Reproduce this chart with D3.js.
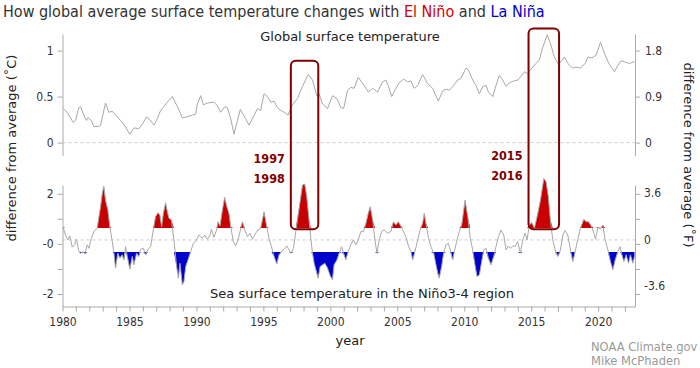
<html>
<head>
  <script src="https://cdn.jsdelivr.net/npm/d3@7/dist/d3.min.js"></script>
</head>
<style>
  body {
    margin: 0;
    background: white;
  }
  text {
    font-family: "DejaVu Sans Condensed", "DejaVu Sans", sans-serif;
  }
  .label {
    font-family: "DejaVu Sans", sans-serif;
  }
  .axis path, .axis line {
    stroke: #aaa;
  }
  .axis text {
    fill: #333;
    font-size: 12px;
    font-family: "DejaVu Sans Condensed", "DejaVu Sans", sans-serif;
  }
</style>
<body>
  <svg id="chart" width="700" height="368"></svg>

  <script type="text/javascript">
    // global surface temperature anomaly (deg C)
    var globalYear = [1980.05, 1980.35, 1980.80, 1980.97, 1981.22, 1981.35, 1981.59, 1981.79, 1981.89, 1982.15,
      1982.34, 1982.71, 1982.84, 1983.21, 1983.46, 1983.72, 1983.96, 1984.34, 1984.71, 1985.03,
      1985.33, 1985.70, 1985.96, 1986.28, 1986.53, 1986.83, 1987.08, 1987.33, 1987.57, 1987.83,
      1988.20, 1988.58, 1988.95, 1989.32, 1989.70, 1989.94, 1990.07, 1990.32, 1990.52, 1990.82,
      1991.31, 1991.57, 1991.81, 1992.11, 1992.31, 1992.56, 1992.81, 1993.06, 1993.28, 1993.68,
      1993.93, 1994.18, 1994.56, 1994.80, 1995.05, 1995.30, 1995.55, 1995.80, 1996.05, 1996.30,
      1996.55, 1996.84, 1997.17, 1997.55, 1997.92, 1998.34, 1998.67, 1998.99, 1999.16, 1999.42,
      1999.79, 2000.16, 2000.49, 2000.79, 2000.99, 2001.29, 2001.53, 2001.78, 2002.08, 2002.33,
      2002.53, 2002.83, 2003.16, 2003.53, 2003.90, 2004.15, 2004.32, 2004.58, 2004.90, 2005.14,
      2005.47, 2005.77, 2006.02, 2006.27, 2006.52, 2006.89, 2007.27, 2007.64, 2008.06, 2008.39,
      2008.64, 2008.88, 2009.14, 2009.51, 2009.76, 2010.13, 2010.30, 2010.63, 2010.88, 2011.13,
      2011.38, 2011.63, 2011.80, 2012.13, 2012.37, 2012.62, 2012.87, 2013.12, 2013.37, 2013.70,
      2014.00, 2014.24, 2014.49, 2014.74, 2014.99, 2015.36, 2015.61, 2015.87, 2016.19, 2016.43,
      2016.73, 2016.99, 2017.23, 2017.48, 2017.73, 2018.11, 2018.36, 2018.68, 2019.03, 2019.23,
      2019.53, 2019.85, 2020.17, 2020.47, 2020.73, 2020.97, 2021.22, 2021.47, 2021.72, 2022.09,
      2022.34, 2022.71];
    var globalTemp = [0.37, 0.33, 0.22, 0.24, 0.38, 0.39, 0.30, 0.24, 0.27, 0.24,
      0.175, 0.175, 0.19, 0.43, 0.33, 0.34, 0.30, 0.24, 0.17, 0.09,
      0.16, 0.15, 0.20, 0.28, 0.25, 0.19, 0.26, 0.35, 0.39, 0.44,
      0.50, 0.39, 0.27, 0.28, 0.30, 0.31, 0.42, 0.51, 0.41, 0.43,
      0.44, 0.40, 0.33, 0.39, 0.38, 0.26, 0.09, 0.24, 0.36, 0.26,
      0.19, 0.26, 0.37, 0.35, 0.53, 0.50, 0.44, 0.45, 0.38, 0.35,
      0.33, 0.30, 0.41, 0.48, 0.61, 0.74, 0.68, 0.51, 0.53, 0.42,
      0.37, 0.51, 0.48, 0.38, 0.37, 0.57, 0.60, 0.59, 0.71, 0.66,
      0.62, 0.55, 0.59, 0.55, 0.66, 0.68, 0.62, 0.50, 0.59, 0.65,
      0.69, 0.66, 0.67, 0.59, 0.62, 0.74, 0.64, 0.59, 0.45, 0.56,
      0.58, 0.57, 0.61, 0.68, 0.70, 0.81, 0.79, 0.68, 0.62, 0.53,
      0.61, 0.62, 0.55, 0.50, 0.62, 0.73, 0.68, 0.61, 0.65, 0.67,
      0.68, 0.72, 0.77, 0.75, 0.80, 0.86, 0.90, 1.04, 1.17, 1.08,
      0.93, 0.86, 0.88, 0.93, 0.86, 0.81, 0.82, 0.81, 0.86, 0.93,
      0.92, 0.95, 1.09, 0.97, 0.88, 0.82, 0.77, 0.84, 0.89, 0.87,
      0.86, 0.88];

    // Nino3-4 sea surface temperature anomaly (deg C)
    var ninoYear = [1980.05, 1980.22, 1980.40, 1980.55, 1980.73, 1980.90, 1981.05, 1981.22, 1981.35, 1981.55,
      1981.67, 1981.85, 1981.97, 1982.15, 1982.34, 1982.59, 1982.84, 1982.97, 1983.09, 1983.21,
      1983.39, 1983.54, 1983.72, 1983.84, 1983.96, 1984.13, 1984.28, 1984.46, 1984.58, 1984.71,
      1984.84, 1985.03, 1985.21, 1985.33, 1985.53, 1985.70, 1985.83, 1986.03, 1986.21, 1986.38,
      1986.58, 1986.78, 1986.95, 1987.13, 1987.27, 1987.40, 1987.53, 1987.70, 1987.83, 1987.95,
      1988.13, 1988.32, 1988.52, 1988.65, 1988.77, 1988.95, 1989.07, 1989.20, 1989.37, 1989.57,
      1989.77, 1989.94, 1990.19, 1990.44, 1990.62, 1990.82, 1991.01, 1991.12, 1991.31, 1991.51,
      1991.61, 1991.76, 1991.94, 1992.11, 1992.26, 1992.43, 1992.56, 1992.76, 1992.93, 1993.11,
      1993.26, 1993.44, 1993.61, 1993.81, 1994.00, 1994.18, 1994.43, 1994.60, 1994.80, 1995.05,
      1995.25, 1995.42, 1995.60, 1995.80, 1996.00, 1996.17, 1996.35, 1996.55, 1996.75, 1996.92,
      1997.05, 1997.25, 1997.42, 1997.67, 1997.92, 1998.09, 1998.24, 1998.41, 1998.54, 1998.67,
      1998.79, 1998.92, 1999.09, 1999.24, 1999.42, 1999.59, 1999.79, 1999.99, 2000.16, 2000.28,
      2000.49, 2000.66, 2000.84, 2001.03, 2001.16, 2001.33, 2001.53, 2001.73, 2001.91, 2002.08,
      2002.28, 2002.48, 2002.65, 2002.83, 2002.98, 2003.16, 2003.33, 2003.48, 2003.65, 2003.83,
      2004.02, 2004.28, 2004.52, 2004.72, 2004.90, 2005.07, 2005.22, 2005.40, 2005.64, 2005.85,
      2006.02, 2006.15, 2006.32, 2006.52, 2006.71, 2006.89, 2007.01, 2007.14, 2007.31, 2007.51,
      2007.72, 2007.89, 2008.01, 2008.13, 2008.31, 2008.46, 2008.64, 2008.81, 2008.96, 2009.14,
      2009.26, 2009.46, 2009.63, 2009.81, 2010.06, 2010.26, 2010.45, 2010.63, 2010.80, 2010.95,
      2011.13, 2011.30, 2011.45, 2011.63, 2011.80, 2012.00, 2012.20, 2012.37, 2012.55, 2012.75,
      2012.95, 2013.12, 2013.29, 2013.44, 2013.62, 2013.79, 2013.99, 2014.19, 2014.37, 2014.54,
      2014.69, 2014.86, 2015.04, 2015.24, 2015.44, 2015.69, 2015.94, 2016.11, 2016.28, 2016.43,
      2016.61, 2016.79, 2016.99, 2017.18, 2017.36, 2017.53, 2017.73, 2017.93, 2018.11, 2018.28,
      2018.48, 2018.68, 2018.93, 2019.10, 2019.28, 2019.48, 2019.68, 2019.80, 2019.98, 2020.17,
      2020.35, 2020.52, 2020.73, 2020.92, 2021.10, 2021.27, 2021.47, 2021.64, 2021.77, 2021.92,
      2022.09, 2022.26, 2022.41, 2022.59, 2022.71];
    var ninoTemp = [0.54, 0.21, 0.00, 0.17, -0.31, -0.21, 0.03, -0.50, -0.57, -0.50,
      -0.60, -0.21, -0.36, 0.07, 0.36, 0.50, 1.43, 2.00, 2.31, 1.71,
      1.28, 0.54, -0.07, -0.57, -1.21, -0.57, -0.78, -0.64, -0.86, -0.29,
      -0.71, -1.26, -0.71, -1.07, -0.57, -0.71, -0.40, -0.36, -0.64, -0.40,
      -0.29, 0.43, 1.00, 1.17, 1.07, 0.57, 1.14, 1.60, 1.21, 0.93,
      0.86, 0.00, -1.14, -1.64, -1.00, -1.93, -1.79, -1.14, -0.86, -0.50,
      -0.14, -0.07, 0.21, 0.07, 0.21, 0.03, 0.21, 0.46, 0.11, 0.43,
      0.78, 0.60, 1.28, 1.83, 1.46, 1.14, 0.57, -0.07, -0.26, 0.00,
      0.36, 0.78, 0.43, 0.14, 0.29, 0.03, 0.29, 0.43, 0.50, 1.21,
      0.57, 0.07, -0.29, -0.71, -1.03, -0.64, -0.50, -0.40, -0.26, -0.43,
      -0.57, -0.36, 0.36, 1.36, 2.36, 2.40, 1.86, 0.86, 0.07, -0.57,
      -1.00, -1.28, -1.64, -1.14, -1.07, -1.00, -1.21, -1.54, -1.71, -1.07,
      -0.86, -0.57, -0.29, -0.64, -0.86, -0.50, -0.21, 0.00, -0.21, 0.00,
      0.36, 0.36, 0.69, 1.14, 1.43, 0.86, 0.00, -0.57, 0.00, 0.36,
      0.43, 0.29, 0.36, 0.78, 0.64, 0.78, 0.64, 0.43, 0.14, -0.29,
      -0.50, -0.86, -0.50, 0.00, 0.43, 0.71, 1.14, 0.71, 0.14, -0.29,
      -0.57, -1.07, -1.40, -1.64, -1.14, -0.57, -0.21, -0.14, -0.43, -0.86,
      -0.50, 0.00, 0.36, 0.64, 1.71, 1.00, 0.07, -0.43, -1.07, -1.57,
      -1.50, -0.93, -0.43, -0.36, -0.78, -1.07, -0.71, -0.29, 0.14, 0.43,
      0.21, -0.43, -0.26, -0.36, -0.26, -0.29, -0.07, -0.57, 0.00, 0.29,
      0.00, 0.64, 0.74, 0.50, 1.00, 1.71, 2.64, 2.50, 1.86, 0.86,
      0.00, -0.43, -0.71, -0.43, 0.21, 0.40, 0.21, -0.43, -0.93, -0.50,
      0.03, 0.50, 0.89, 0.78, 0.78, 0.60, 0.29, 0.03, 0.54, 0.46,
      0.64, 0.00, -0.43, -0.93, -1.28, -0.86, -0.50, -0.29, -0.64, -0.93,
      -0.64, -1.00, -0.64, -1.00, -0.71];

    // ticks and labels
    var yearTicks = d3.range(1980, 2023);
    var topTicksC = [0, 0.5, 1];
    var topTicksF = [0, 0.9, 1.8];
    var ninoTicksC = [-2, -1, 0, 1, 2];
    var ninoLabelsC = ['-2', '', '-0', '', '2'];
    var ninoTicksF = [-3.6, 0, 3.6];
    var ninoLabelsF = ['-3.6', '0', '3.6'];
    var events = ['1997', '1998', '2015', '2016'];

    var svg = d3.select('#chart');

    // layout
    var left = 62.5, right = 635;
    var topPanel = {top: 34, bottom: 155.5};
    var botPanel = {top: 185, bottom: 306.5};

    var x = d3.scaleLinear()
      .domain([1980, 2022.75])
      .range([left, right]);
    var yTop = d3.scaleLinear()
      .domain([-0.14, 1.18])
      .range([topPanel.bottom, topPanel.top]);
    var yTopF = d3.scaleLinear()
      .domain([-0.14 * 1.8, 1.18 * 1.8])
      .range([topPanel.bottom, topPanel.top]);
    var yNino = d3.scaleLinear()
      .domain([-2.86, 2.36])
      .range([botPanel.bottom, botPanel.top]);
    // left tick marks of the lower panel sit a little off the data zero
    var yNinoTick = d3.scaleLinear()
      .domain([-2.5, 2.35])
      .range([botPanel.bottom, botPanel.top]);

    //title
    var title = svg.append('text')
      .attr('x', 3)
      .attr('y', 17)
      .attr('font-size', 16)
      .attr('fill', '#333');
    title.append('tspan').text('How global average surface temperature changes with ');
    title.append('tspan').attr('fill', '#d00000').text('El Niño');
    title.append('tspan').text(' and ');
    title.append('tspan').attr('fill', '#0000cc').text('La Niña');

    //zero lines
    svg.append('line')
      .attr('x1', left).attr('x2', right)
      .attr('y1', yTop(0)).attr('y2', yTop(0))
      .attr('stroke', '#ccc')
      .attr('stroke-dasharray', '3,3');
    svg.append('line')
      .attr('x1', left).attr('x2', right)
      .attr('y1', yNino(0)).attr('y2', yNino(0))
      .attr('stroke', '#ccc')
      .attr('stroke-dasharray', '3,3');

    //global temperature line
    var globalData = d3.zip(globalYear, globalTemp);
    var topLine = d3.line()
      .x(function (d) { return x(d[0]); })
      .y(function (d) { return yTop(d[1]); });
    svg.append('path')
      .attr('d', topLine(globalData))
      .attr('fill', 'none')
      .attr('stroke', '#a8a8a8')
      .attr('stroke-width', 1);

    //nino fills, clipped at +/-0.5 (snapped to whole pixels so no hairline leaks)
    var ninoData = d3.zip(ninoYear, ninoTemp);
    var warmY = Math.round(yNino(0.5));
    var coldY = Math.round(yNino(-0.5));
    var defs = svg.append('defs');
    defs.append('clipPath').attr('id', 'warmClip')
      .append('rect')
      .attr('x', left).attr('y', 0)
      .attr('width', right - left)
      .attr('height', warmY);
    defs.append('clipPath').attr('id', 'coldClip')
      .append('rect')
      .attr('x', left).attr('y', coldY)
      .attr('width', right - left)
      .attr('height', 368 - coldY);

    var warmArea = d3.area()
      .x(function (d) { return x(d[0]); })
      .y0(warmY)
      .y1(function (d) { return Math.min(yNino(d[1]), warmY); });
    var coldArea = d3.area()
      .x(function (d) { return x(d[0]); })
      .y0(coldY)
      .y1(function (d) { return Math.max(yNino(d[1]), coldY); });
    svg.append('path')
      .attr('d', warmArea(ninoData))
      .attr('clip-path', 'url(#warmClip)')
      .attr('fill', '#c80000');
    svg.append('path')
      .attr('d', coldArea(ninoData))
      .attr('clip-path', 'url(#coldClip)')
      .attr('fill', '#0000cc');

    var ninoLine = d3.line()
      .x(function (d) { return x(d[0]); })
      .y(function (d) { return yNino(d[1]); });
    svg.append('path')
      .attr('d', ninoLine(ninoData))
      .attr('fill', 'none')
      .attr('stroke', '#a8a8a8')
      .attr('stroke-width', 1);

    //axes
    svg.append('g')
      .attr('class', 'axis')
      .attr('transform', 'translate(' + left + ',0)')
      .call(d3.axisLeft(yTop).tickValues(topTicksC).tickSize(5).tickSizeOuter(0).tickPadding(4)
        .tickFormat(d3.format('')));
    svg.append('g')
      .attr('class', 'axis')
      .attr('transform', 'translate(' + right + ',0)')
      .call(d3.axisRight(yTopF).tickValues(topTicksF).tickSize(5).tickSizeOuter(0).tickPadding(5)
        .tickFormat(d3.format('')));
    svg.append('g')
      .attr('class', 'axis')
      .attr('transform', 'translate(' + left + ',0)')
      .call(d3.axisLeft(yNinoTick).tickValues(ninoTicksC).tickSize(5).tickSizeOuter(0).tickPadding(4)
        .tickFormat(function (d, i) { return ninoLabelsC[i]; }));
    var rightNino = svg.append('g')
      .attr('class', 'axis')
      .attr('transform', 'translate(' + right + ',0)')
      .call(d3.axisRight(yNinoTick).tickValues(ninoTicksC).tickSize(5).tickSizeOuter(0).tickFormat(''));
    rightNino.selectAll('.flabel')
      .data(ninoTicksF)
      .enter()
      .append('text')
      .attr('class', 'flabel')
      .attr('x', 9)
      .attr('y', function (d) { return yNino(d / 1.8); })
      .attr('dy', '0.32em')
      .attr('text-anchor', 'start')
      .text(function (d, i) { return ninoLabelsF[i]; });

    svg.append('g')
      .attr('class', 'axis')
      .attr('transform', 'translate(0,' + botPanel.bottom + ')')
      .call(d3.axisBottom(x).tickValues(yearTicks).tickSize(5).tickSizeOuter(0).tickPadding(6)
        .tickFormat(function (d) { return d % 5 === 0 ? d : ''; }));

    //panel titles
    svg.append('text')
      .attr('class', 'label')
      .attr('x', 350)
      .attr('y', 41)
      .attr('text-anchor', 'middle')
      .attr('font-size', 13)
      .attr('fill', '#222')
      .text('Global surface temperature');
    svg.append('text')
      .attr('class', 'label')
      .attr('x', 362)
      .attr('y', 298)
      .attr('text-anchor', 'middle')
      .attr('font-size', 13)
      .attr('fill', '#222')
      .text('Sea surface temperature in the Niño3-4 region');

    //axis titles
    svg.append('text')
      .attr('class', 'label')
      .attr('x', 350)
      .attr('y', 345)
      .attr('text-anchor', 'middle')
      .attr('font-size', 13)
      .attr('fill', '#222')
      .text('year');
    svg.append('text')
      .attr('class', 'label')
      .attr('transform', 'translate(16,148) rotate(-90)')
      .attr('text-anchor', 'middle')
      .attr('font-size', 13)
      .attr('fill', '#222')
      .text('difference from average (˚C)');
    svg.append('text')
      .attr('class', 'label')
      .attr('transform', 'translate(684,155) rotate(90)')
      .attr('text-anchor', 'middle')
      .attr('font-size', 13)
      .attr('fill', '#222')
      .text('difference from average (˚F)');

    //event boxes
    var boxes = [
      {start: 1997.05, end: 1999.1, top: 0.89, labels: events.slice(0, 2), labelY: 163},
      {start: 2014.8, end: 2017.08, top: 1.24, labels: events.slice(2, 4), labelY: 160}
    ];
    boxes.forEach(function (b) {
      svg.append('rect')
        .attr('x', x(b.start))
        .attr('y', yTop(b.top))
        .attr('width', x(b.end) - x(b.start))
        .attr('height', yNino(0.46) - yTop(b.top))
        .attr('rx', 5)
        .attr('fill', 'none')
        .attr('stroke', '#800000')
        .attr('stroke-width', 2);
      b.labels.forEach(function (t, i) {
        svg.append('text')
          .attr('x', x(b.start) - 6)
          .attr('y', b.labelY + i * 20)
          .attr('text-anchor', 'end')
          .attr('font-size', 12.5)
          .attr('font-weight', 'bold')
          .attr('fill', '#800000')
          .text(t);
      });
    });

    //credits
    svg.append('text')
      .attr('x', 591)
      .attr('y', 351)
      .attr('font-size', 12.8)
      .attr('fill', '#999')
      .text('NOAA Climate.gov');
    svg.append('text')
      .attr('x', 591)
      .attr('y', 365)
      .attr('font-size', 12.8)
      .attr('fill', '#999')
      .text('Mike McPhaden');
  </script>
</body>
</html>
